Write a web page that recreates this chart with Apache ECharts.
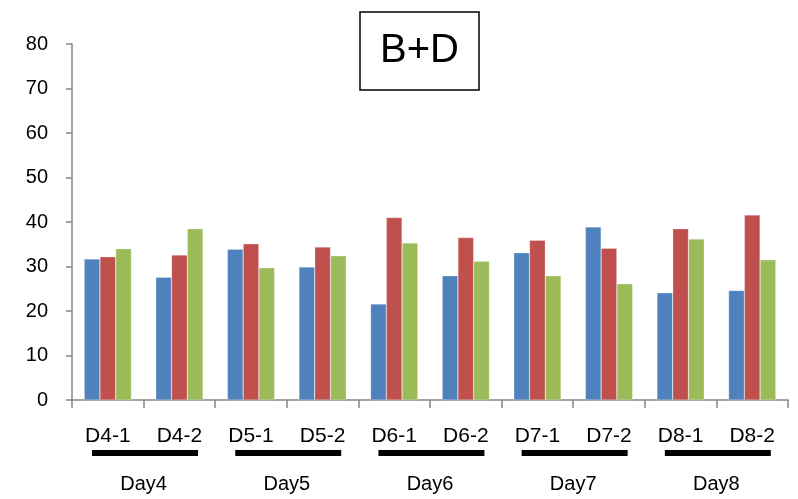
<!DOCTYPE html>
<html>
<head>
<meta charset="utf-8">
<script src="https://cdn.jsdelivr.net/npm/echarts@6/dist/echarts.min.js"></script>
<style>html,body{margin:0;padding:0;background:#fff;}#c{width:798px;height:499px;}</style>
</head>
<body>
<div id="c"></div>
<script>
const categories = ['D4-1','D4-2','D5-1','D5-2','D6-1','D6-2','D7-1','D7-2','D8-1','D8-2'];
const dayLabels = ['Day4','Day5','Day6','Day7','Day8'];
const seriesBlue = [31.7, 27.6, 33.9, 29.9, 21.6, 27.9, 33.1, 38.9, 24.1, 24.6];
const seriesRed = [32.2, 32.6, 35.1, 34.4, 41.0, 36.5, 35.9, 34.1, 38.5, 41.6];
const seriesGreen = [34.0, 38.5, 29.7, 32.4, 35.3, 31.2, 27.9, 26.1, 36.2, 31.5];
const yTicks = {min: 0, max: 80, interval: 10};

const FONT = '"Liberation Sans", Arial, sans-serif';
const axisGray = '#868686';
const chart = echarts.init(document.getElementById('c'), null, {renderer: 'canvas'});

function bar(name, data, color) {
  return {
    name, type: 'bar', data, xAxisIndex: 0,
    barGap: '0%', barCategoryGap: '34%',
    itemStyle: {color, borderColor: 'rgba(255,255,255,0.5)', borderWidth: 0.5},
    animation: false
  };
}

chart.setOption({
  animation: false,
  title: {
    text: 'B+D', left: 360, top: 12,
    borderColor: '#000', borderWidth: 1.5,
    padding: [19, 20, 19, 20],
    textStyle: {fontFamily: FONT, fontSize: 40, fontWeight: 'normal', color: '#000'}
  },
  grid: {left: 72, right: 10, top: 44, bottom: 99},
  xAxis: [{
    type: 'category', data: categories, position: 'bottom',
    axisLine: {lineStyle: {color: axisGray, width: 1.5}},
    axisTick: {show: true, length: 8, lineStyle: {color: axisGray, width: 1.5}},
    axisLabel: {margin: 26, fontFamily: FONT, fontSize: 21, color: '#000'}
  }, {
    type: 'category', data: dayLabels, position: 'bottom', offset: 66,
    axisLine: {show: false}, axisTick: {show: false},
    axisLabel: {margin: 8, fontFamily: FONT, fontSize: 20, color: '#000'}
  }],
  yAxis: {
    type: 'value', min: yTicks.min, max: yTicks.max, interval: yTicks.interval,
    splitLine: {show: false},
    axisLine: {show: true, lineStyle: {color: axisGray, width: 1.5}},
    axisTick: {show: true, length: 6, lineStyle: {color: axisGray, width: 1.5}},
    axisLabel: {margin: 24, fontFamily: FONT, fontSize: 20, color: '#000'}
  },
  series: [
    bar('Blue', seriesBlue, '#4F81BD'),
    bar('Red', seriesRed, '#C0504D'),
    bar('Green', seriesGreen, '#9BBB59')
  ]
});

// underlines beneath each day's pair of categories
const lines = [];
for (let d = 0; d < dayLabels.length; d++) {
  const a = chart.convertToPixel({xAxisIndex: 0}, categories[2 * d]);
  const b = chart.convertToPixel({xAxisIndex: 0}, categories[2 * d + 1]);
  const step = b - a;
  const x1 = a - step * 0.22;
  const x2 = b + step * 0.26;
  const y0 = chart.convertToPixel({yAxisIndex: 0}, 0);
  lines.push({
    type: 'rect',
    shape: {x: x1, y: y0 + 50, width: x2 - x1, height: 6},
    style: {fill: '#000'}
  });
}
chart.setOption({graphic: lines});
</script>
</body>
</html>
